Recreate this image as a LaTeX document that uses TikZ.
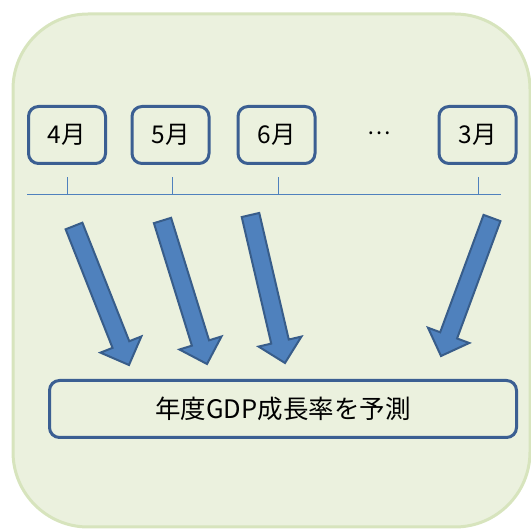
\documentclass[tikz,border=0pt]{standalone}
\usepackage{fontspec}
\newfontfamily\jpfont{Noto Sans CJK JP}
\usetikzlibrary{calc}
\definecolor{bgfill}{HTML}{EBF1DE}
\definecolor{bgline}{HTML}{D7E4BD}
\definecolor{boxline}{HTML}{3B5F92}
\definecolor{arrfill}{HTML}{4F81BD}
\definecolor{arrline}{HTML}{385D8A}
\tikzset{
  monthbox/.style={draw=boxline, line width=3pt, rounded corners=10pt,
    minimum width=77pt, minimum height=57pt, inner sep=0pt,
    font=\jpfont\fontsize{24.5}{28}\selectfont},
  resultbox/.style={draw=boxline, line width=3pt, rounded corners=10pt,
    minimum width=467pt, minimum height=57pt, inner sep=0pt,
    font=\jpfont\fontsize{25.5}{28}\selectfont},
  timeline/.style={draw=arrfill, line width=1pt},
  blockarr/.style={fill=arrfill, draw=arrline, line width=2pt, line join=miter},
}
\newcommand\blockarrow[2]{%
  \coordinate (n) at ($(#2)!22pt!(#1)$);
  \path[blockarr] ($(#1)!9pt!90:(#2)$) -- ($(n)!9pt!-90:(#1)$) -- ($(n)!22pt!-90:(#1)$)
    -- (#2) -- ($(n)!22pt!90:(#1)$) -- ($(n)!9pt!90:(#1)$) -- ($(#1)!9pt!-90:(#2)$) -- cycle;
}
\begin{document}
\begin{tikzpicture}[x=1pt,y=-1pt]
\useasboundingbox (0,0) rectangle (531,529);
\draw[fill=bgfill, draw=bgline, line width=3pt, rounded corners=75pt] (13,14) rectangle (530,527);
% month boxes
\node[monthbox] (m4) at (67,135) {4月};
\node[monthbox] (m5) at (170.5,135) {5月};
\node[monthbox] (m6) at (276.5,135) {6月};
\node[font=\jpfont\fontsize{22}{26}\selectfont] (dots) at (379,133) {…};
\node[monthbox] (m3) at (477.5,135) {3月};
% timeline
\coordinate (tl) at (27,195);
\coordinate (tr) at (501,195);
\draw[timeline] (tl) -- (tr);
\foreach \x/\n in {67/a,172/b,278/c,478/d}{
  \coordinate (tb\n) at (\x,195);
  \coordinate (tt\n) at (\x,177);
  \draw[timeline] (tb\n) -- (tt\n);
}
% arrows
\coordinate (a1) at (74,226);  \coordinate (h1) at (129,365);
\coordinate (a2) at (162.5,220.5); \coordinate (h2) at (207,364);
\coordinate (a3) at (250.5,215); \coordinate (h3) at (285,363);
\coordinate (a4) at (492,218); \coordinate (h4) at (441,356);
\blockarrow{a1}{h1}
\blockarrow{a2}{h2}
\blockarrow{a3}{h3}
\blockarrow{a4}{h4}
% result box
\node[resultbox] (res) at (283,409) {年度GDP成長率を予測};
\end{tikzpicture}
\end{document}
